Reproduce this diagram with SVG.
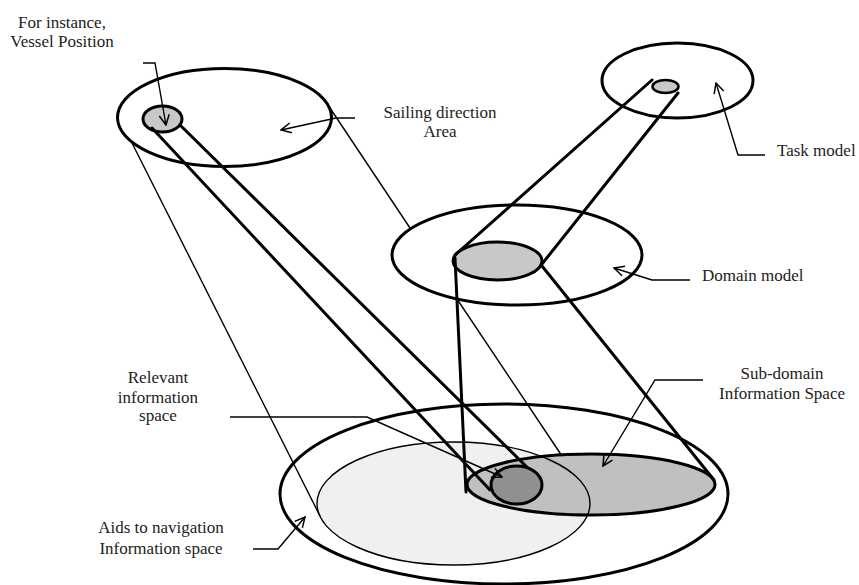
<svg xmlns="http://www.w3.org/2000/svg" width="859" height="585" viewBox="0 0 859 585">
<style>
.lbl{font-family:"Liberation Serif","Times New Roman",serif;font-size:17px;fill:#222}
.thick{stroke:#000;stroke-width:3;fill:none;stroke-linecap:round;stroke-linejoin:round}
.thin{stroke:#000;stroke-width:1.4;fill:none}
.arr{stroke:#000;stroke-width:1.4;fill:none;marker-end:url(#ah)}
</style>
<defs>
<marker id="ah" viewBox="0 0 12 12" refX="11" refY="6" markerWidth="12" markerHeight="12" markerUnits="userSpaceOnUse" orient="auto">
<path d="M1,1 L11,6 L1,11" fill="none" stroke="#000" stroke-width="1.5"/>
</marker>
</defs>
<rect width="859" height="585" fill="#fff"/>

<g id="aids-space">
<ellipse cx="504" cy="494" rx="224" ry="90" fill="#fff" stroke="#000" stroke-width="3"/>
</g>
<g id="relevant-space-fill">
<ellipse cx="453.5" cy="503.5" rx="136.5" ry="61.5" fill="#f0f0f0" stroke="none"/>
</g>
<g id="sub-domain">
<ellipse cx="591" cy="484.5" rx="124" ry="30.5" fill="#c0c0c0" stroke="#000" stroke-width="3"/>
</g>
<g id="relevant-space">
<ellipse cx="453.5" cy="503.5" rx="136.5" ry="61.5" fill="none" stroke="#000" stroke-width="1.4"/>
</g>

<g id="sailing-area">
<ellipse cx="224.5" cy="117.5" rx="107" ry="49" fill="#fff" stroke="#000" stroke-width="3"/>
</g>
<g id="vessel-position">
<ellipse cx="162.5" cy="119" rx="19.5" ry="13" fill="#c8c8c8" stroke="#000" stroke-width="3"/>
</g>
<g id="task-model">
<ellipse cx="677.5" cy="80.5" rx="75.5" ry="37.5" fill="#fff" stroke="#000" stroke-width="3"/>
<ellipse cx="665.5" cy="86.5" rx="13" ry="6.5" fill="#c8c8c8" stroke="#000" stroke-width="2.5"/>
</g>
<g id="domain-model">
<ellipse cx="517" cy="255" rx="125" ry="50" fill="#fff" stroke="#000" stroke-width="3"/>
<ellipse cx="497.5" cy="261" rx="44.5" ry="19" fill="#c8c8c8" stroke="#000" stroke-width="3"/>
</g>

<g id="connectors">
<line class="thin" x1="132" y1="143" x2="320" y2="516"/>
<line class="thin" x1="330" y1="108" x2="410" y2="228"/>
<line class="thin" x1="457" y1="299" x2="562" y2="456"/>
<line class="thick" x1="152" y1="128" x2="490" y2="490"/>
<line class="thick" x1="180" y1="125" x2="540" y2="480"/>
<line class="thick" x1="652" y1="80" x2="455" y2="255"/>
<line class="thick" x1="678" y1="93" x2="542" y2="264"/>
<line class="thick" x1="542" y1="266" x2="714" y2="480"/>
<line class="thick" x1="455" y1="258" x2="466" y2="492"/>
</g>

<g id="relevant-dot">
<ellipse cx="516.5" cy="485" rx="25.5" ry="19" fill="#909090" stroke="#000" stroke-width="3"/>
</g>

<g id="label-arrows">
<path class="arr" d="M143,63 L155,63 L166,125"/>
<path class="arr" d="M355,118 L336,118 L281,130"/>
<path class="arr" d="M765,155 L738,155 L716,83"/>
<path class="arr" d="M690,280 L652,280 L614,268"/>
<path class="arr" d="M703,380 L655,380 L603,466"/>
<path class="arr" d="M230,417 L367,417 L502,477"/>
<path class="arr" d="M253,549 L278,549 L305,517"/>
</g>

<g id="labels">
<text class="lbl" x="62" y="28" text-anchor="middle">For instance,</text>
<text class="lbl" x="62" y="47" text-anchor="middle">Vessel Position</text>
<text class="lbl" x="440" y="118" text-anchor="middle">Sailing direction</text>
<text class="lbl" x="440" y="137" text-anchor="middle">Area</text>
<text class="lbl" x="777" y="156">Task model</text>
<text class="lbl" x="702" y="281">Domain model</text>
<text class="lbl" x="782" y="379" text-anchor="middle">Sub-domain</text>
<text class="lbl" x="782" y="399" text-anchor="middle">Information Space</text>
<text class="lbl" x="158" y="383" text-anchor="middle">Relevant</text>
<text class="lbl" x="158" y="403" text-anchor="middle">information</text>
<text class="lbl" x="158" y="421" text-anchor="middle">space</text>
<text class="lbl" x="161" y="533" text-anchor="middle">Aids to navigation</text>
<text class="lbl" x="161" y="554" text-anchor="middle">Information space</text>
</g>
</svg>
